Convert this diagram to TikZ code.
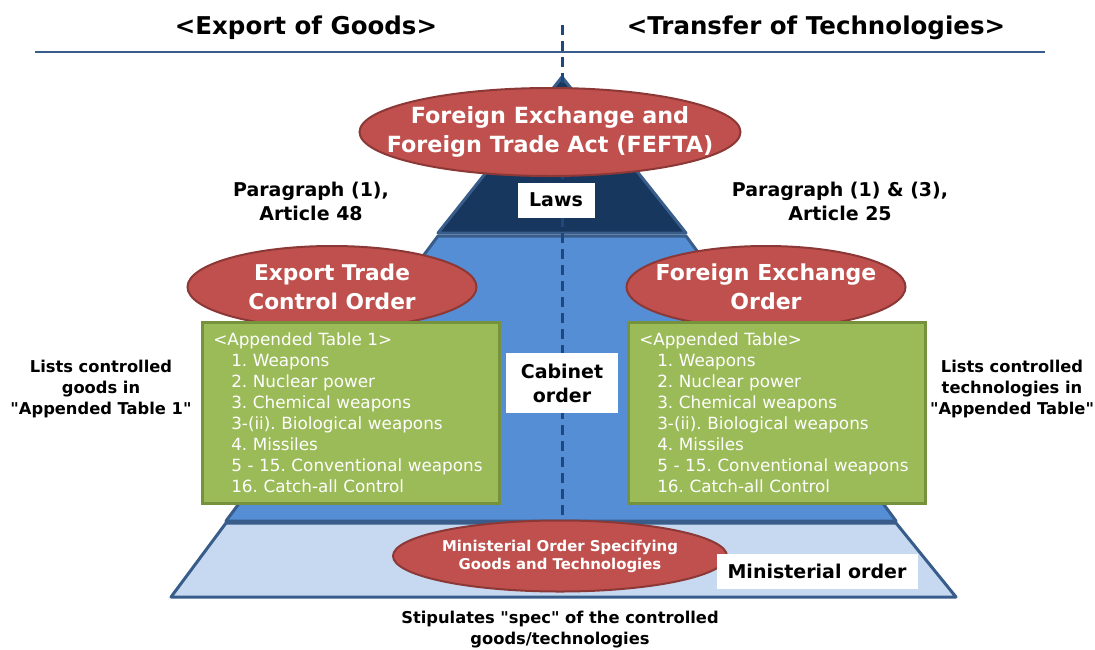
\documentclass[tikz,border=0pt]{standalone}
\usepackage{fontspec}
\setmainfont{DejaVu Sans}
\usetikzlibrary{shapes.geometric}
\definecolor{lawnavy}{RGB}{23,55,94}
\definecolor{edgeblue}{RGB}{56,93,138}
\definecolor{cabblue}{RGB}{85,142,213}
\definecolor{minblue}{RGB}{198,217,241}
\definecolor{actred}{RGB}{192,80,77}
\definecolor{actedge}{RGB}{140,56,54}
\definecolor{listgreen}{RGB}{155,187,89}
\definecolor{listedge}{RGB}{118,146,60}
\definecolor{dashblue}{RGB}{31,73,125}
\frenchspacing

\begin{document}
\begin{tikzpicture}[x=1pt, y=-1pt,
  layer/.style={draw=edgeblue, line width=3pt, line join=round},
  act/.style={ellipse, draw=actedge, fill=actred, line width=2pt, inner sep=0pt},
  acttext/.style={text=white, align=center, inner sep=0pt},
  listbox/.style={draw=listedge, fill=listgreen, line width=2.5pt, text=white, anchor=north west, minimum width=297pt, minimum height=181pt, text width=279pt, inner xsep=9pt, align=left, font=\fontsize{16.8}{21}\selectfont},
  levelbox/.style={fill=white, inner sep=0pt, align=center, font=\bfseries\fontsize{19}{24}\selectfont},
  note/.style={align=center, font=\bfseries\fontsize{16.3}{21}\selectfont}]
\useasboundingbox (0,0) rectangle (1095,649);

\node [font=\bfseries\fontsize{24.5}{30}\selectfont] (goods) at (306,28) {<Export of Goods>};
\node [font=\bfseries\fontsize{24.5}{30}\selectfont] (tech) at (816,28) {<Transfer of Technologies>};
\draw [edgeblue, line width=1.5pt] (35,52) -- (1045,52);

\draw [layer, fill=minblue] (226,523) -- (896,523) -- (956,597) -- (171,597) -- cycle;
\draw [layer, fill=cabblue] (438,236) -- (686,236) -- (896,521) -- (226,521) -- cycle;
\draw [layer, fill=lawnavy] (562,77) -- (686,233) -- (438,233) -- cycle;
\draw [dashblue, line width=3pt, dash pattern=on 10pt off 6pt] (562,25) -- (562,519);

\node [act, minimum width=381pt, minimum height=88pt] (fefta) at (550,132) {};
\node [acttext, font=\bfseries\fontsize{22.3}{29}\selectfont] at (fefta) {Foreign Exchange and\\Foreign Trade Act (FEFTA)};

\node [levelbox, minimum width=77pt, minimum height=35pt] (laws) at (556,200) {Laws};
\node [align=center, font=\bfseries\fontsize{19}{24}\selectfont] (art48) at (311,201) {Paragraph (1),\\Article 48};
\node [align=center, font=\bfseries\fontsize{19}{24}\selectfont] (art25) at (840,201) {Paragraph (1) \& (3),\\Article 25};

\node [act, minimum width=289pt, minimum height=82pt] (etco) at (332,287) {};
\node [acttext, font=\bfseries\fontsize{21.7}{29}\selectfont] at (etco) {Export Trade\\Control Order};
\node [act, minimum width=279pt, minimum height=82pt] (feo) at (766,287) {};
\node [acttext, font=\bfseries\fontsize{22}{29}\selectfont] at (feo) {Foreign Exchange\\Order};

\node [listbox] (goodslist) at (201,321) {\hspace*{2pt}<Appended Table 1>\\
  \hspace*{20pt}1. Weapons\\
  \hspace*{20pt}2. Nuclear power\\
  \hspace*{20pt}3. Chemical weapons\\
  \hspace*{20pt}3-(ii). Biological weapons\\
  \hspace*{20pt}4. Missiles\\
  \hspace*{20pt}5 - 15. Conventional weapons\\
  \hspace*{20pt}16. Catch-all Control};
\node [listbox] (techlist) at (627,321) {\hspace*{2pt}<Appended Table>\\
  \hspace*{20pt}1. Weapons\\
  \hspace*{20pt}2. Nuclear power\\
  \hspace*{20pt}3. Chemical weapons\\
  \hspace*{20pt}3-(ii). Biological weapons\\
  \hspace*{20pt}4. Missiles\\
  \hspace*{20pt}5 - 15. Conventional weapons\\
  \hspace*{20pt}16. Catch-all Control};

\node [levelbox, minimum width=112pt, minimum height=60pt] (cabinet) at (562,383) {Cabinet\\order};
\node [note] (goodsnote) at (101,389) {Lists controlled\\goods in\\\textquotedbl Appended Table 1\textquotedbl};
\node [note] (technote) at (1012,389) {Lists controlled\\technologies in\\\textquotedbl Appended Table\textquotedbl};

\node [act, minimum width=334pt, minimum height=71pt] (minorder) at (560,556) {};
\node [acttext, font=\bfseries\fontsize{14.9}{18}\selectfont] at (minorder) {Ministerial Order Specifying\\Goods and Technologies};
\node [levelbox, minimum width=201pt, minimum height=35pt] (ministerial) at (817,571) {Ministerial order};

\node [note] (spec) at (560,630) {Stipulates \textquotedbl spec\textquotedbl\ of the controlled\\goods/technologies};
\end{tikzpicture}
\end{document}
